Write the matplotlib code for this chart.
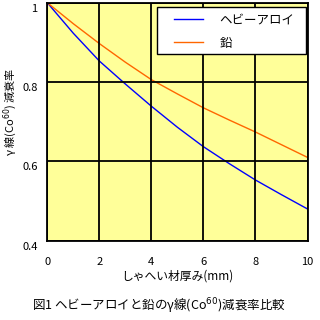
import matplotlib
matplotlib.use("Agg")
import matplotlib.pyplot as plt
from matplotlib.transforms import ScaledTranslation
from matplotlib.patches import Rectangle

plt.rcParams['font.family'] = ['Noto Sans CJK JP', 'DejaVu Sans']

thickness = [0, 1, 2, 3, 4, 5, 6, 7, 8, 9, 10]
heavy_alloy = [1.0, 0.923, 0.853, 0.795, 0.739, 0.686, 0.637, 0.594, 0.553, 0.516, 0.48]
lead = [1.0, 0.947, 0.897, 0.850, 0.806, 0.770, 0.735, 0.704, 0.674, 0.642, 0.61]
series_names = ["ヘビーアロイ", "鉛"]
x_ticks = [0, 2, 4, 6, 8, 10]
y_ticks = [0.4, 0.6, 0.8, 1.0]
y_tick_labels = ["0.4", "0.6", "0.8", "1"]
x_label = "しゃへい材厚み(mm)"
y_label = "γ 線(Co$^{60}$) 減衰率"
title = "図1 ヘビーアロイと鉛のγ線(Co$^{60}$)減衰率比較"

W = 320
fig = plt.figure(figsize=(3.2, 3.2), dpi=100)
fig.patch.set_facecolor("white")
left, right, top, bottom = 47.3, 307.5, 2.7, 240.7
ax = fig.add_axes([left / W, 1 - bottom / W, (right - left) / W, (bottom - top) / W])
ax.set_facecolor("#FFFF99")

ax.plot(thickness, heavy_alloy, color="#0000FF", lw=1.0, label=series_names[0])
ax.plot(thickness, lead, color="#FF6600", lw=1.0, label=series_names[1])

ax.set_xlim(0, 10)
ax.set_ylim(0.4, 1.0)
ax.set_xticks(x_ticks)
ax.set_yticks(y_ticks)
ax.set_yticklabels(y_tick_labels)
ax.grid(True, color="black", lw=1.3)
ax.set_axisbelow(False)
for s in ax.spines.values():
    s.set_color("black")
    s.set_linewidth(1.3)
ax.tick_params(length=0, labelsize=8, colors="black")
ax.tick_params(axis="x", pad=11.5)
ax.tick_params(axis="y", pad=7)
for lab in ax.get_yticklabels():
    lab.set_transform(lab.get_transform() + ScaledTranslation(0, -5 / 100, fig.dpi_scale_trans))

ax.set_xlabel(x_label, fontsize=8.5, labelpad=2)
ax.set_ylabel(y_label, fontsize=8)
ax.yaxis.label.set_va("center")
ax.yaxis.set_label_coords(-0.142, 0.54)

fig.text(159 / W, 1 - 305.7 / W, title, ha="center", va="center", fontsize=9)

def ax_x(px):
    return (px - left) / (right - left)

def ax_y(py):
    return (bottom - py) / (bottom - top)

frame = Rectangle((ax_x(157), ax_y(54)), ax_x(305.7) - ax_x(157), ax_y(6.5) - ax_y(54),
                  transform=ax.transAxes, facecolor="white", edgecolor="black", lw=1.0, zorder=4)
ax.add_patch(frame)
leg = ax.legend(loc="center left", bbox_to_anchor=(ax_x(174), ax_y(31.5)),
                fontsize=9, frameon=False, borderaxespad=0, borderpad=0,
                handlelength=2.3, handletextpad=1.35, labelspacing=0.82)
leg.set_zorder(5)

fig.savefig("out.png", dpi=100)
